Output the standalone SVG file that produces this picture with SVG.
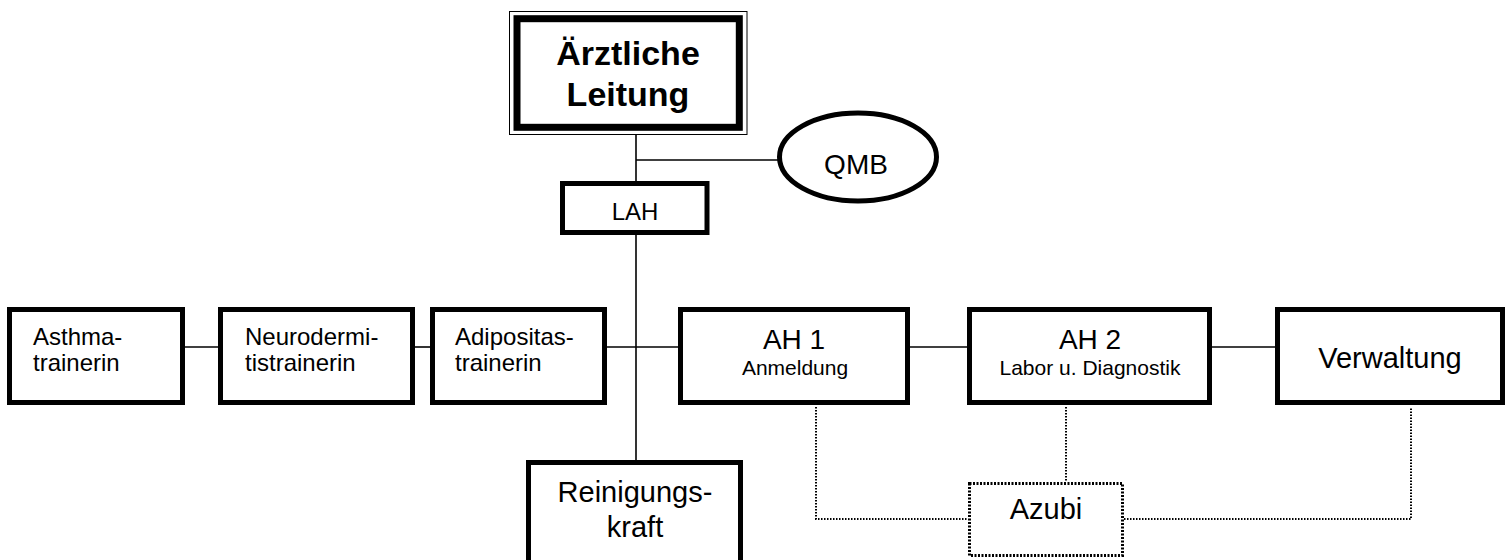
<svg xmlns="http://www.w3.org/2000/svg" width="1506" height="560" viewBox="0 0 1506 560">
<style>
.box{fill:#fff;stroke:#000;stroke-width:5}
.t{font-family:"Liberation Sans",Arial,sans-serif;fill:#000}
.c{text-anchor:middle}
.ln{stroke:#000;stroke-width:1.6;fill:none}
.dot{stroke:#000;stroke-width:2;stroke-dasharray:1.5 1.5;fill:none}
</style>
<rect width="1506" height="560" fill="#fff"/>
<g id="connectors">
<line class="ln" x1="636" y1="135" x2="636" y2="183" stroke-width="2"/>
<line class="ln" x1="636" y1="160" x2="778" y2="160"/>
<line class="ln" x1="636" y1="233" x2="636" y2="462" stroke-width="2"/>
<line class="ln" x1="185" y1="347" x2="218" y2="347"/>
<line class="ln" x1="415" y1="347" x2="430" y2="347"/>
<line class="ln" x1="607" y1="347" x2="678" y2="347"/>
<line class="ln" x1="910" y1="347" x2="967" y2="347"/>
<line class="ln" x1="1212" y1="347" x2="1275" y2="347"/>
<polyline class="dot" points="816,407 816,519 968,519"/>
<line class="dot" x1="1066" y1="407" x2="1066" y2="482"/>
<polyline class="dot" points="1124,519 1411,519 1411,407"/>
</g>
<g id="aerztliche">
<rect x="509.5" y="11.5" width="237.5" height="123" fill="#fff" stroke="#000" stroke-width="1"/>
<rect x="517" y="18.7" width="222.3" height="108.6" fill="#fff" stroke="#000" stroke-width="7"/>
<text class="t c" x="628" y="65" font-size="34" font-weight="bold">Ärztliche</text>
<text class="t c" x="628" y="106" font-size="34" font-weight="bold">Leitung</text>
</g>
<g id="qmb">
<ellipse cx="858" cy="157" rx="78.5" ry="44" fill="#fff" stroke="#000" stroke-width="5"/>
<text class="t c" x="856" y="174" font-size="28">QMB</text>
</g>
<g id="lah">
<rect class="box" x="562.5" y="183.5" width="144.5" height="49"/>
<text class="t c" x="635" y="220" font-size="24">LAH</text>
</g>
<g id="asthma">
<rect class="box" x="9.5" y="309.5" width="173" height="93"/>
<text class="t" x="33" y="345" font-size="24">Asthma-</text>
<text class="t" x="33" y="371" font-size="24">trainerin</text>
</g>
<g id="neuro">
<rect class="box" x="220.5" y="309.5" width="192" height="93"/>
<text class="t" x="245" y="345" font-size="24">Neurodermi-</text>
<text class="t" x="245" y="371" font-size="24">tistrainerin</text>
</g>
<g id="adipo">
<rect class="box" x="432.5" y="309.5" width="172" height="93"/>
<text class="t" x="455" y="345" font-size="24">Adipositas-</text>
<text class="t" x="455" y="371" font-size="24">trainerin</text>
</g>
<g id="ah1">
<rect class="box" x="680.5" y="309.5" width="227" height="93"/>
<text class="t c" x="794" y="349" font-size="28">AH 1</text>
<text class="t c" x="795" y="375" font-size="21">Anmeldung</text>
</g>
<g id="ah2">
<rect class="box" x="969.5" y="309.5" width="240" height="93"/>
<text class="t c" x="1090" y="349" font-size="28">AH 2</text>
<text class="t c" x="1090" y="375" font-size="21">Labor u. Diagnostik</text>
</g>
<g id="verwaltung">
<rect class="box" x="1277.5" y="309.5" width="225" height="93"/>
<text class="t c" x="1390" y="368" font-size="29">Verwaltung</text>
</g>
<g id="reinigung">
<rect class="box" x="528.5" y="462.5" width="212" height="102"/>
<text class="t c" x="635" y="502" font-size="29">Reinigungs-</text>
<text class="t c" x="635" y="537" font-size="29">kraft</text>
</g>
<g id="azubi">
<rect x="969.5" y="483.5" width="153" height="72" fill="#fff" stroke="#000" stroke-width="3" stroke-dasharray="2 1.5"/>
<text class="t c" x="1046" y="519" font-size="29">Azubi</text>
</g>
</svg>
